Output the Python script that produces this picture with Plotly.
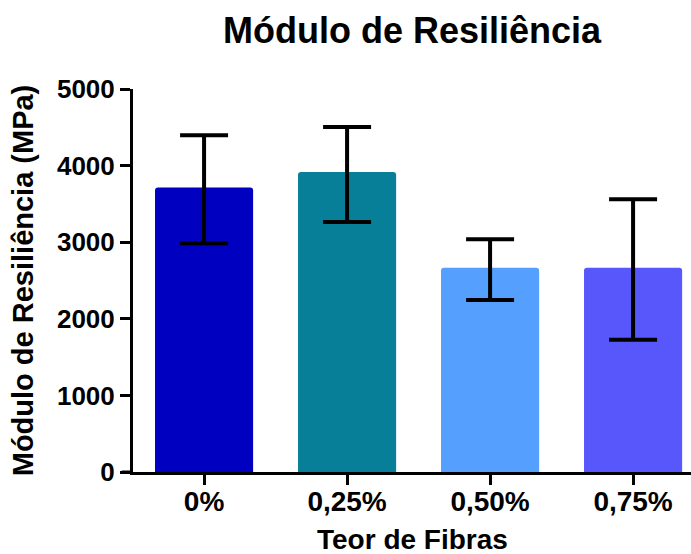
import plotly.graph_objects as go

categories = ["0%", "0,25%", "0,50%", "0,75%"]
means = [3715, 3915, 2665, 2665]
err_high = [4395, 4505, 3040, 3560]
err_low = [2985, 3265, 2245, 1725]
colors = ["#0000C0", "#087F98", "#55A0FF", "#5757FB"]
y_ticks = [0, 1000, 2000, 3000, 4000, 5000]

xs = list(range(len(categories)))
fig = go.Figure()
fig.add_trace(go.Bar(
    x=xs, y=means,
    width=0.686,
    marker=dict(color=colors, line=dict(width=0), cornerradius=3),
    error_y=dict(
        type="data", symmetric=False,
        array=[h - m for h, m in zip(err_high, means)],
        arrayminus=[m - l for m, l in zip(means, err_low)],
        color="black", thickness=4, width=24,
    ),
))

font_family = "Liberation Sans, Arial, sans-serif"
fig.update_layout(
    width=691, height=554,
    margin=dict(l=133, r=0, t=89, b=82),
    plot_bgcolor="white", paper_bgcolor="white",
    showlegend=False,
    title=dict(text="<b>Módulo de Resiliência</b>", x=0.5, xref="paper",
               y=0.946, yref="container", yanchor="middle",
               font=dict(family=font_family, size=36, color="black")),
    font=dict(family=font_family, color="black"),
    xaxis=dict(
        range=[-0.497, 3.405], tickvals=xs, ticktext=[f"<b>{c}</b>" for c in categories],
        showline=True, linecolor="black", linewidth=3,
        ticks="outside", ticklen=10, tickwidth=3, tickcolor="black",
        tickfont=dict(size=28), showgrid=False, zeroline=False, automargin=False,
        ticklabelstandoff=-8,
    ),
    yaxis=dict(
        range=[0, 5000], tickvals=y_ticks,
        ticktext=["<b>%d</b>" % v for v in y_ticks],
        showline=True, linecolor="black", linewidth=3,
        ticks="outside", ticklen=10, tickwidth=3, tickcolor="black",
        tickfont=dict(size=26), showgrid=False, zeroline=False, automargin=False,
        title=dict(text="<b>Módulo de Resiliência (MPa)</b>", font=dict(size=29)),
    ),
    annotations=[dict(
        text="<b>Teor de Fibras</b>", xref="paper", yref="paper",
        x=0.5, y=-0.177, yanchor="middle", xanchor="center", showarrow=False,
        font=dict(family=font_family, size=28, color="black"),
    )],
)
fig.add_shape(type="line", xref="paper", yref="y", x0=-0.02, x1=0, y0=0, y1=0,
              line=dict(color="black", width=3))
fig.write_html("out.html", config={"displayModeBar": False},
               post_script="document.body.style.margin='0';")
